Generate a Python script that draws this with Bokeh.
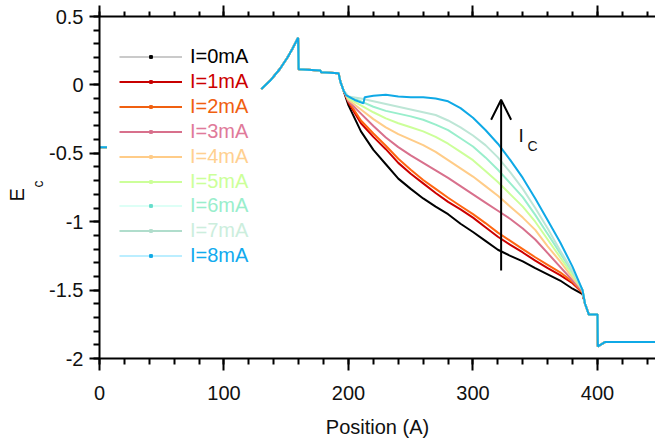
import math
from bokeh.plotting import figure
from bokeh.models import (Range1d, LinearAxis, SingleIntervalTicker, Legend, LegendItem,
                          Label, Arrow, OpenHead, CustomJSTickFormatter, Title)
from bokeh.embed import file_html
from bokeh.resources import INLINE

nan = float("nan")

# ---------------- data ----------------
labels = ["I=0mA", "I=1mA", "I=2mA", "I=3mA", "I=4mA", "I=5mA", "I=6mA", "I=7mA", "I=8mA"]

# common part shared by all currents (before divergence)
head_x = [0, 6, nan, 130, 137, 145, 151, 155, 159.5, 160, 177.5, 178, 192, 193.6, 196]
head_y = [-0.455, -0.455, nan, -0.03, 0.03, 0.118, 0.2, 0.265, 0.345, 0.115, 0.105, 0.092, 0.086, 0.02, -0.04]

# common part after convergence
tail_x = [390, 393, 400, 400.3, 406, 450]
tail_y = [-1.6, -1.678, -1.678, -1.912, -1.88, -1.88]

mid_x = [200, 210, 220, 230, 240, 250, 260, 270, 280, 290, 300, 310, 320, 330, 340, 350, 360, 370, 380, 388]

ec_0mA = [-0.15, -0.34, -0.475, -0.58, -0.685, -0.76, -0.83, -0.89, -0.945, -1.015, -1.075, -1.14, -1.205, -1.25, -1.29, -1.34, -1.385, -1.43, -1.49, -1.53]
ec_1mA = [-0.13, -0.28, -0.38, -0.47, -0.57, -0.65, -0.72, -0.79, -0.855, -0.91, -0.97, -1.04, -1.11, -1.17, -1.225, -1.285, -1.34, -1.39, -1.45, -1.52]
ec_2mA = [-0.12, -0.26, -0.355, -0.445, -0.54, -0.62, -0.695, -0.76, -0.825, -0.885, -0.945, -1.01, -1.08, -1.14, -1.2, -1.26, -1.315, -1.37, -1.44, -1.52]
ec_3mA = [-0.12, -0.21, -0.3, -0.385, -0.455, -0.515, -0.57, -0.625, -0.68, -0.74, -0.8, -0.86, -0.92, -0.98, -1.05, -1.13, -1.23, -1.33, -1.43, -1.51]
ec_4mA = [-0.11, -0.18, -0.25, -0.31, -0.36, -0.4, -0.44, -0.49, -0.55, -0.61, -0.67, -0.74, -0.81, -0.89, -0.97, -1.06, -1.18, -1.29, -1.41, -1.5]
ec_5mA = [-0.1, -0.15, -0.2, -0.245, -0.28, -0.31, -0.34, -0.38, -0.43, -0.49, -0.55, -0.63, -0.71, -0.8, -0.89, -1.0, -1.13, -1.26, -1.39, -1.5]
ec_6mA = [-0.09, -0.12, -0.16, -0.19, -0.21, -0.23, -0.255, -0.29, -0.33, -0.39, -0.45, -0.53, -0.62, -0.72, -0.82, -0.95, -1.09, -1.23, -1.37, -1.5]
ec_7mA = [-0.085, -0.1, -0.12, -0.14, -0.16, -0.18, -0.2, -0.22, -0.26, -0.31, -0.37, -0.44, -0.53, -0.64, -0.76, -0.9, -1.05, -1.21, -1.36, -1.5]

blue_x = [198, 205, 212, 213, 220, 230, 240, 250, 260, 270, 280, 290, 300, 310, 320, 330, 340, 350, 360, 370, 380, 388]
ec_8mA = [-0.075, -0.11, -0.135, -0.09, -0.08, -0.072, -0.085, -0.09, -0.09, -0.1, -0.12, -0.17, -0.24, -0.33, -0.43, -0.55, -0.68, -0.83, -0.99, -1.15, -1.33, -1.5]

series_y = [ec_0mA, ec_1mA, ec_2mA, ec_3mA, ec_4mA, ec_5mA, ec_6mA, ec_7mA]

# arrow / annotation positions (data units)
arrow_x = 322.6
arrow_y0 = -1.357
arrow_y1 = -0.109

# ---------------- styles ----------------
line_colors = ["#000000", "#cc0000", "#ff6611", "#d8708c", "#ffcc88", "#ccff99", "#99eecc", "#bde6d6", "#0fa9e6"]
leg_line_colors = ["#b8b8b8", "#c80000", "#f06010", "#d8708c", "#ffcc88", "#ccff99", "#ddfff6", "#b0ddcc", "#bbeeff"]
leg_mark_colors = ["#000000", "#c80000", "#f06010", "#d8708c", "#ffcc88", "#ccff99", "#66ddcc", "#b0ddcc", "#0fa9e6"]
text_colors = ["#000000", "#cc0000", "#f06010", "#e07a9a", "#ffd090", "#ccff99", "#99eecc", "#cceedd", "#11aaee"]
FONT = "Liberation Sans"

p = figure(width=655, height=442, x_range=Range1d(0, 446.6), y_range=Range1d(-2, 0.5),
           output_backend="svg", toolbar_location=None,
           min_border_left=99, min_border_right=0, min_border_top=16, min_border_bottom=84)
p.outline_line_color = None
p.grid.visible = False
p.background_fill_color = "white"
p.border_fill_color = "white"

xt = SingleIntervalTicker(interval=100, num_minor_ticks=5)
yt = SingleIntervalTicker(interval=0.5, num_minor_ticks=5)

xa = p.xaxis[0]
xa.ticker = xt
xa.axis_label = "Position (A)"
ya = p.yaxis[0]
ya.ticker = yt

for ax in (xa, ya):
    ax.axis_line_width = 2
    ax.major_tick_line_width = 2
    ax.minor_tick_line_width = 2
    ax.major_tick_in = 0
    ax.minor_tick_in = 0
    ax.major_label_text_font = FONT
    ax.major_label_text_font_size = "20px"
    ax.major_label_text_color = "#111111"
    ax.axis_label_text_font = FONT
    ax.axis_label_text_font_size = "20px"
    ax.axis_label_text_font_style = "normal"
    ax.axis_label_text_color = "#111111"
xa.major_tick_out = 12
xa.minor_tick_out = 6
xa.major_label_standoff = 15
xa.axis_label_standoff = 13
ya.major_tick_out = 10
ya.minor_tick_out = 6
ya.major_label_standoff = 6
ya.formatter = CustomJSTickFormatter(code="return tick.toString()")

top = LinearAxis(ticker=SingleIntervalTicker(interval=100, num_minor_ticks=5),
                 formatter=CustomJSTickFormatter(code="return ''"),
                 axis_line_width=2, major_tick_line_width=2, minor_tick_line_width=2,
                 major_tick_in=0, minor_tick_in=0, major_tick_out=11, minor_tick_out=5,
                 major_label_text_font_size="0px", major_label_standoff=0)
p.add_layout(top, "above")

# data lines
for i in range(8):
    xs = head_x + mid_x + tail_x
    ys = head_y + series_y[i] + tail_y
    p.line(xs, ys, line_color=line_colors[i], line_width=2)
p.line(head_x + blue_x + tail_x, head_y + ec_8mA + tail_y, line_color=line_colors[8], line_width=2)

# legends (one per item so each label can have its own colour)
for i in range(9):
    lr = p.line(x=[nan], y=[nan], line_color=leg_line_colors[i], line_width=1.5 if i == 0 else 2)
    mr = p.scatter(x=[nan], y=[nan], marker="square", size=3,
                   fill_color=leg_mark_colors[i], line_color=leg_mark_colors[i])
    cy = 56.5 + 24.9 * i
    leg = Legend(items=[LegendItem(label=labels[i], renderers=[lr, mr])],
                 location=(20, 358 - (cy + 12)),
                 padding=0, margin=0, spacing=0,
                 glyph_width=63, glyph_height=7, label_height=24, label_standoff=8,
                 label_text_font=FONT, label_text_font_size="20px",
                 label_text_color=text_colors[i],
                 border_line_color=None, background_fill_alpha=0)
    p.add_layout(leg)

# arrow and I_C label
p.add_layout(Arrow(end=OpenHead(size=20, line_width=2, line_color="black"),
                   x_start=arrow_x, y_start=arrow_y0, x_end=arrow_x, y_end=arrow_y1,
                   line_width=2, line_color="black"))
p.add_layout(Label(x=336.5, y=-0.37, text="I", text_font=FONT, text_font_size="19px",
                   text_color="#111111", text_baseline="alphabetic"))
p.add_layout(Label(x=343.8, y=-0.443, text="C", text_font=FONT, text_font_size="14px",
                   text_color="#111111", text_baseline="alphabetic"))

# y axis label E_c, as two titles in the left panel
t_c = Title(text="c", align="left", offset=171, vertical_align="middle", standoff=0,
            text_font=FONT, text_font_size="14px", text_font_style="normal", text_color="#111111")
t_e = Title(text="E", align="left", offset=157, vertical_align="middle", standoff=0,
            text_font=FONT, text_font_size="20px", text_font_style="normal", text_color="#111111")
p.add_layout(t_c, "left")
p.add_layout(t_e, "left")

open("out.html", "w").write(file_html(p, INLINE))
